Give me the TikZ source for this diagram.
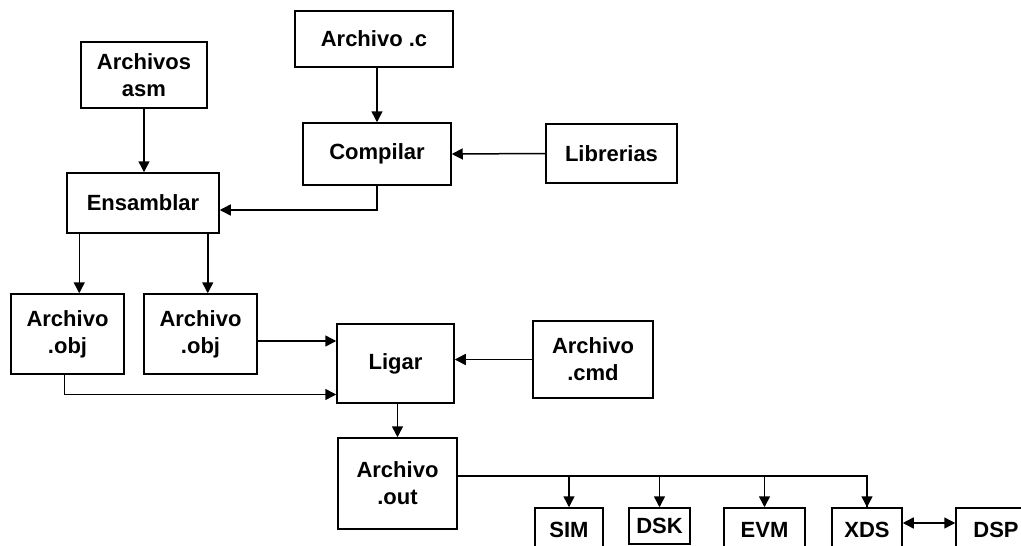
\documentclass[tikz,border=0pt]{standalone}
\usepackage{fontspec}
\setmainfont{Liberation Sans}
\usetikzlibrary{arrows.meta}

\begin{document}
\begin{tikzpicture} [x=1pt, y=-1pt, >={Triangle[length=11pt,width=11pt]}, line width=1.5pt,
  block/.style={rectangle, draw, inner sep=0pt, align=center, font=\fontsize{22}{27}\selectfont\bfseries},
  small/.style={block, minimum width=#1, minimum height=44}]
\useasboundingbox (0,0) rectangle (1021,546);
\clip (0,0) rectangle (1021,546);
{
  %% Source files
  \node [block, minimum width=126, minimum height=66] (asm) at (144,75) {Archivos\\asm};
  \node [block, minimum width=158, minimum height=56] (archc) at (374,39) {Archivo .c};
  \node [block, minimum width=148, minimum height=62] (comp) at (377,154) {Compilar};
  \node [block, minimum width=131, minimum height=59] (libr) at (611.5,153.5) {Librerias};
  \node [block, minimum width=152, minimum height=60] (ensam) at (143,203) {Ensamblar};
  %% Objects and linker
  \node [block, minimum width=113, minimum height=80] (obj1) at (67.5,334) {Archivo\\.obj};
  \node [block, minimum width=113, minimum height=80] (obj2) at (200.5,334) {Archivo\\.obj};
  \node [block, minimum width=117, minimum height=79] (ligar) at (395.5,363.5) {Ligar};
  \node [block, minimum width=120, minimum height=77] (cmd) at (593,359.5) {Archivo\\.cmd};
  \node [block, minimum width=119, minimum height=91] (out) at (397.5,483.5) {Archivo\\.out};
  %% Targets
  \node [small=68] (sim) at (569,530) {SIM};
  \node [block, minimum width=61, minimum height=36] (dsk) at (659.5,526) {DSK};
  \node [small=81] (evm) at (764.5,530) {EVM};
  \node [small=70] (xds) at (867,530) {XDS};
  \node [small=80] (dsp) at (996,530) {DSP};
  % Draw edges
  \draw [->] (asm.south) -- (asm.south |- ensam.north);
  \draw [->] (comp.north |- archc.south) -- (comp.north);
  \draw [->] (libr.west) -- (comp.east);
  \draw [->] (comp.south) |- ([yshift=-7pt]ensam.east);
  \draw [->] ([xshift=13pt]ensam.south west) -- ([xshift=13pt]ensam.south west |- obj1.north);
  \draw [->] ([xshift=-12pt]ensam.south east) -- ([xshift=-12pt]ensam.south east |- obj2.north);
  \draw [->] ([yshift=-7pt]obj2.east) -- ([yshift=-7pt]obj2.east -| ligar.west);
  \draw [->] ([xshift=-3pt]obj1.south) |- ([yshift=-31pt]ligar.west);
  \draw [->] (cmd.west) -- (cmd.west -| ligar.east);
  \draw [->] ([xshift=2pt]ligar.south) -- ([xshift=2pt]ligar.south |- out.north);
  \draw (out.east |- 0,476) -| (xds.north);
  \draw [->] (sim.north |- 0,476) -- (sim.north);
  \draw [->] (dsk.north |- 0,476) -- (dsk.north);
  \draw [->] (evm.north |- 0,476) -- (evm.north);
  \draw [->] (xds.north |- 0,476) -- (xds.north);
  \draw [<->] ([yshift=7pt]xds.east) -- ([yshift=7pt]xds.east -| dsp.west);
}
\end{tikzpicture}
\end{document}
